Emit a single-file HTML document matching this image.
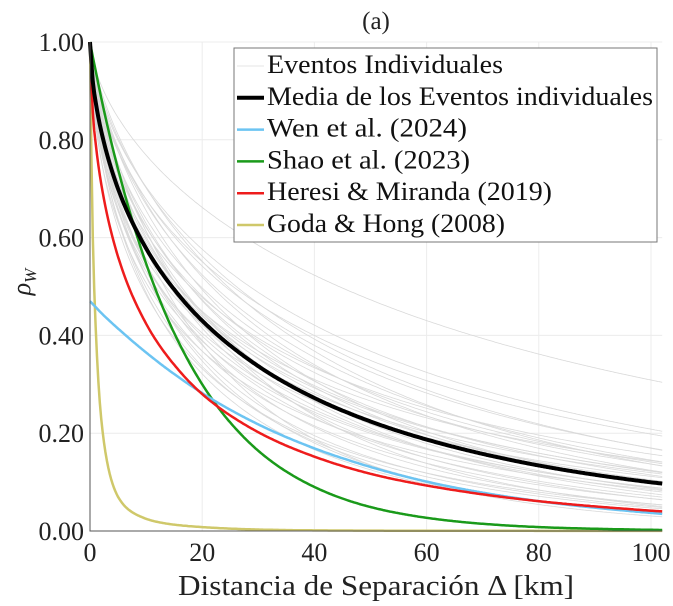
<!DOCTYPE html>
<html><head><meta charset="utf-8"><style>
html,body{margin:0;padding:0;background:#fff;}
svg{display:block;font-family:"Liberation Serif",serif;}
</style></head><body>
<svg id="chart" width="673" height="606" viewBox="0 0 673 606">
<g id="grid"></g>
<g id="grey"></g>
<g id="models"></g>
<g id="axes"></g>
<text x="376" y="29" text-anchor="middle" font-size="25" fill="#222">(a)</text>
<text x="376" y="595" text-anchor="middle" font-size="28" fill="#222" textLength="396" lengthAdjust="spacingAndGlyphs">Distancia de Separación Δ [km]</text>
<text transform="translate(30,282) rotate(-90)" text-anchor="middle" font-size="26" font-style="italic" fill="#222">ρ<tspan font-size="17" dy="6">W</tspan></text>
<g id="legend"></g>
</svg>
<script>
const xTicks=[0,20,40,60,80,100];
const yTicks=[0,0.2,0.4,0.6,0.8,1.0];
const yTickLabels=["0.00","0.20","0.40","0.60","0.80","1.00"];
const dist=[0,0.5,1,2,5,10,15,20,30,40,50,60,80,100,102];
const meanVals=[1,0.919,0.878,0.818,0.70,0.578,0.494,0.43,0.337,0.272,0.224,0.187,0.134,0.0996,0.097];
const heresiVals=[1,0.856,0.794,0.71,0.561,0.424,0.34,0.28,0.202,0.152,0.117,0.093,0.061,0.0416,0.040];
const shaoVals=[1,0.97,0.942,0.886,0.74,0.547,0.405,0.30,0.164,0.09,0.049,0.027,0.008,0.0024,0.002];
const wenVals=[0.47,0.464,0.458,0.446,0.414,0.365,0.321,0.282,0.218,0.169,0.131,0.101,0.061,0.037,0.035];
const godaVals=[1,0.6,0.42,0.23,0.07,0.025,0.013,0.008,0.003,0.0013,0.0008,0.0005,0.0003,0.0002,0.0002];
const eventA=[78,50,46,42,38,35,33,31,30,29,28,27,26,25,24,23,22,21,20,19,18.5,17.5,17,16.5,40,36,32,28,26,24,22,20,30,34,44,25,21,27];
const eventB=[0.65,0.65,0.62,0.66,0.68,0.64,0.62,0.66,0.7,0.6,0.64,0.68,0.62,0.66,0.7,0.6,0.64,0.68,0.62,0.66,0.7,0.64,0.6,0.66,0.75,0.72,0.74,0.58,0.56,0.55,0.58,0.56,0.55,0.57,0.7,0.78,0.8,0.72];
const X0=90,X1=651,Y0=531,Y1=42,XMAX=102;
const xs=d=>X0+(X1-X0)*d/100;
const ys=v=>Y0-(Y0-Y1)*v;
const NS="http://www.w3.org/2000/svg";
function mk(tag,attrs,parent){const e=document.createElementNS(NS,tag);for(const k in attrs)e.setAttribute(k,attrs[k]);parent.appendChild(e);return e;}
const grid=document.getElementById('grid'),axes=document.getElementById('axes');
xTicks.forEach(t=>{
 const l=mk('line',{x1:xs(t),x2:xs(t),y1:Y1,y2:Y0,stroke:'#ececec','stroke-width':1},grid);
 
 
 const tx=mk('text',{x:xs(t),y:Y0+30,'text-anchor':'middle','font-size':26,fill:'#222'},axes);
 tx.textContent=t;
 
 
});
yTicks.forEach((t,i)=>{
 const l=mk('line',{x1:X0,x2:xs(XMAX),y1:ys(t),y2:ys(t),stroke:'#ececec','stroke-width':1},grid);
 
 
 const tx=mk('text',{x:X0-6,y:ys(t)+9,'text-anchor':'end','font-size':26,fill:'#222'},axes);
 tx.textContent=yTickLabels[i];
 
 
});
const ax=mk('path',{d:`M${X0},${Y1}V${Y0}H${xs(XMAX)}`,fill:'none',stroke:'#555','stroke-width':1},axes);


const grey=document.getElementById('grey');
eventA.forEach((a,i)=>{
 const b=eventB[i];let d='';
 for(let k=0;k<=408;k++){const x=k*0.25;const v=Math.exp(-Math.pow(x/a,b));d+=(k?'L':'M')+xs(x).toFixed(1)+','+ys(v).toFixed(1);}
 const p=mk('path',{d:d,fill:'none',stroke:'#d9d9d9','stroke-width':0.8},grey);
 
 
});
function interp(xsArr,vals){
 const n=xsArr.length,y=vals.map(v=>Math.log(v)),h=[],s=[];
 for(let i=0;i<n-1;i++){h.push(xsArr[i+1]-xsArr[i]);s.push((y[i+1]-y[i])/h[i]);}
 const m=[s[0]];
 for(let i=1;i<n-1;i++){m.push(s[i-1]*s[i]<=0?0:(s[i-1]+s[i])/2);}
 m.push(s[n-2]);
 for(let i=0;i<n-1;i++){if(s[i]===0){m[i]=m[i+1]=0;continue;}const a=m[i]/s[i],b=m[i+1]/s[i];const t=a*a+b*b;if(t>9){const k=3/Math.sqrt(t);m[i]=k*a*s[i];m[i+1]=k*b*s[i];}}
 return x=>{let i=0;while(i<n-2&&x>xsArr[i+1])i++;const t=(x-xsArr[i])/h[i];const t2=t*t,t3=t2*t;
  const v=(2*t3-3*t2+1)*y[i]+(t3-2*t2+t)*h[i]*m[i]+(-2*t3+3*t2)*y[i+1]+(t3-t2)*h[i]*m[i+1];return Math.exp(v);};
}
const models=document.getElementById('models');
function curve(vals,color,w,name){
 const f=interp(dist,vals);let d='';
 for(let k=0;k<=408;k++){const x=k*0.25;d+=(k?'L':'M')+xs(x).toFixed(1)+','+ys(f(x)).toFixed(1);}
 const p=mk('path',{d:d,fill:'none',stroke:color,'stroke-width':w,'stroke-linejoin':'round'},models);
 
 
}
curve(godaVals,'#cfc86a',2.5,'goda-hong-curve');
curve(shaoVals,'#1a9a1a',2.5,'shao-curve');
curve(wenVals,'#6cc4f2',2.5,'wen-curve');
curve(heresiVals,'#ee1c1c',2.5,'heresi-miranda-curve');
curve(meanVals,'#000',4,'mean-curve');
const lg=document.getElementById('legend');
const box=mk('rect',{x:234,y:48,width:423,height:194,fill:'#fff',stroke:'#777','stroke-width':1},lg);


const legLabels=["Eventos Individuales","Media de los Eventos individuales","Wen et al. (2024)","Shao et al. (2023)","Heresi & Miranda (2019)","Goda & Hong (2008)"];
const legLens=[236,386,200,203,285,238];
const legColors=["#e4e4e4","#000","#6cc4f2","#1a9a1a","#ee1c1c","#cfc86a"];
const legWidths=[1,4,2.5,2.5,2.5,2.5];
legLabels.forEach((t,i)=>{
 const y=64+i*31.8;
 const ln=mk('line',{x1:237,x2:264,y1:y+2,y2:y+2,stroke:legColors[i],'stroke-width':legWidths[i]},lg);
 
 
 const tx=mk('text',{x:267,y:y+9,'font-size':26,fill:'#111',textLength:legLens[i],lengthAdjust:'spacingAndGlyphs'},lg);
 tx.textContent=t;
 
 
});
</script>
</body></html>
